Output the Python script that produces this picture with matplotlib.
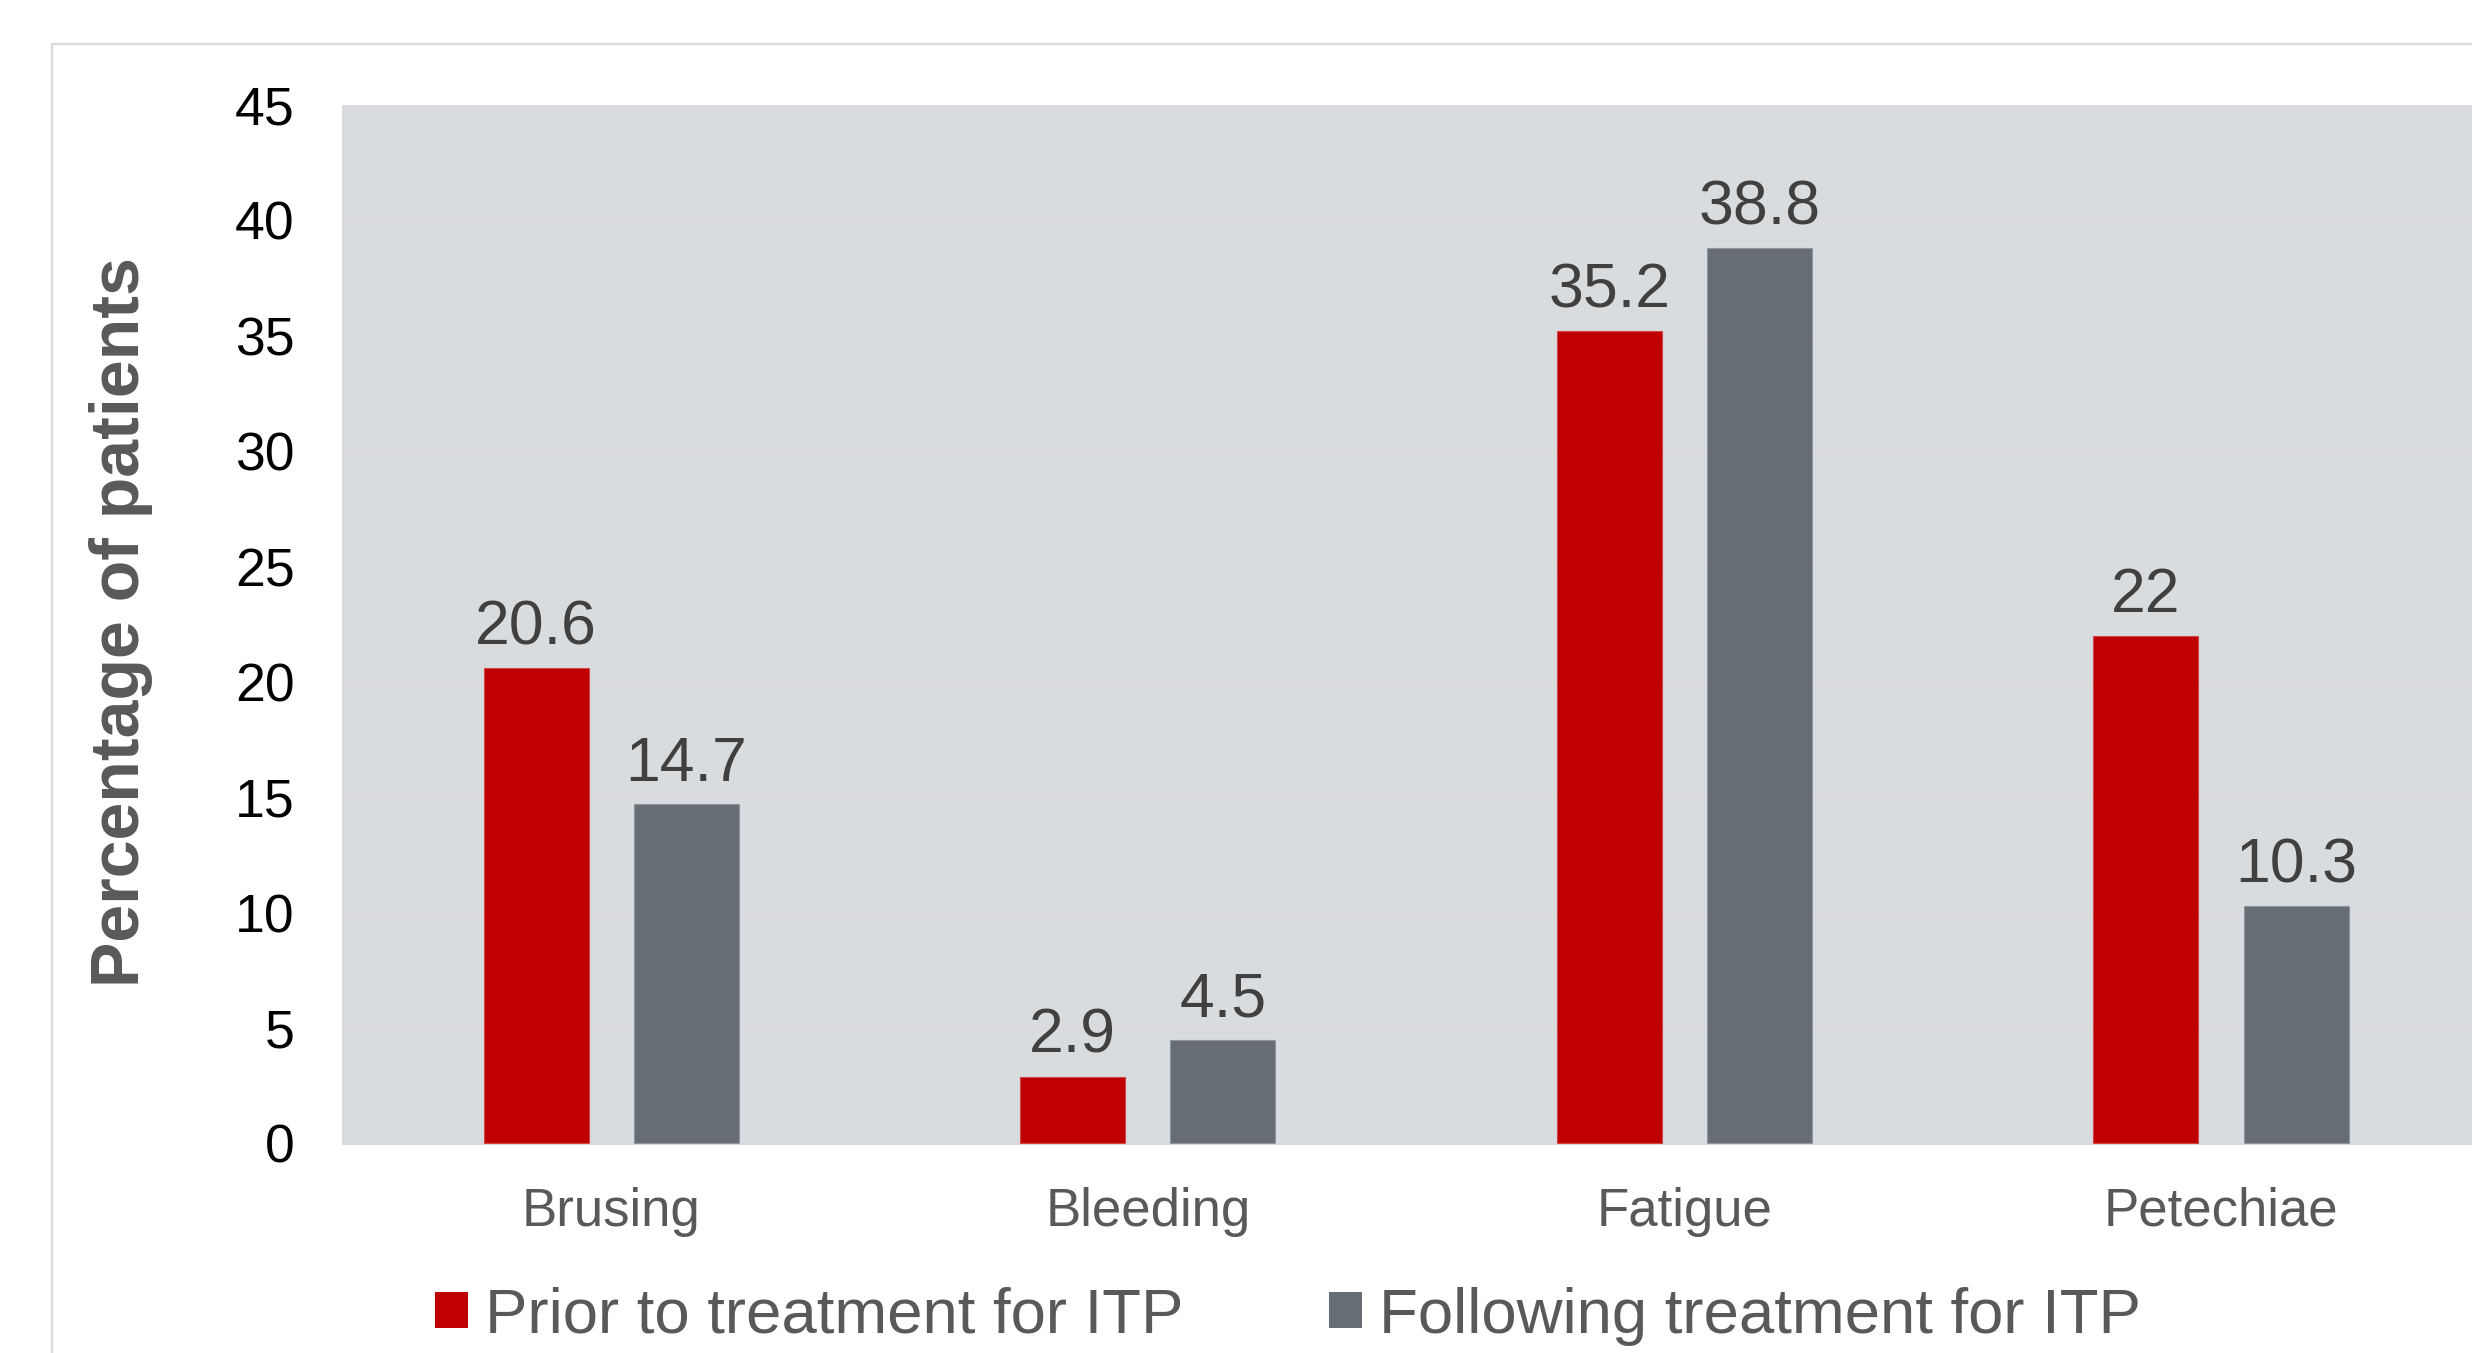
import matplotlib
matplotlib.use("Agg")
import matplotlib.pyplot as plt
from matplotlib.patches import Patch, Rectangle
import numpy as np

plt.rcParams['font.family'] = ['Liberation Sans', 'DejaVu Sans']

categories = ["Brusing", "Bleeding", "Fatigue", "Petechiae"]
prior = [20.6, 2.9, 35.2, 22]
following = [14.7, 4.5, 38.8, 10.3]
prior_labels = ["20.6", "2.9", "35.2", "22"]
following_labels = ["14.7", "4.5", "38.8", "10.3"]
series_names = ["Prior to treatment for ITP", "Following treatment for ITP"]
yticks = [0, 5, 10, 15, 20, 25, 30, 35, 40, 45]

RED = "#C00000"
GRAY = "#666D75"
BG = "#D9DCDF"

W, H = 2472, 1353
fig = plt.figure(figsize=(W / 100, H / 100), dpi=100)
fig.patch.set_facecolor("white")

# outer light border
fig.add_artist(Rectangle((52 / W, -0.05), 1.2, 1 - 44 / H + 0.05,
                         transform=fig.transFigure, fill=False,
                         edgecolor="#D9D9D9", linewidth=1.6))

LEFT = 342
ax = fig.add_axes([LEFT / W, 1 - 1145 / H, (W - LEFT) / W, (1145 - 105) / H])
ax.set_facecolor(BG)
for s in ax.spines.values():
    s.set_visible(False)

x = np.arange(len(categories))
bw = 0.1957
off = 0.14
ax.bar(x - off, prior, width=bw, color=RED, edgecolor="#D24545", linewidth=0.8, zorder=3)
ax.bar(x + off, following, width=bw, color=GRAY, edgecolor="#8E949A", linewidth=0.8, zorder=3)

for xi, v, t in zip(x - off, prior, prior_labels):
    ax.annotate(t, (xi, v), xytext=(0, 17), textcoords="offset points",
                ha="center", va="baseline", fontsize=45, color="#404040", zorder=4)
for xi, v, t in zip(x + off, following, following_labels):
    ax.annotate(t, (xi, v), xytext=(0, 17), textcoords="offset points",
                ha="center", va="baseline", fontsize=45, color="#404040", zorder=4)

ax.set_xlim((LEFT - 611.2) / 536.6, (W - 611.2) / 536.6)
ax.set_ylim(-0.065, 45)
ax.set_yticks(yticks)
ax.set_yticklabels([str(v) for v in yticks])
ax.set_xticks(x)
ax.set_xticklabels(categories)
ax.tick_params(axis="y", length=0, pad=34, labelsize=38.5, labelcolor="black")
ax.tick_params(axis="x", length=0, pad=30, labelsize=38, labelcolor="#595959")
ax.grid(axis="y", color="#DEDADA", linewidth=1.0, zorder=1)
ax.set_axisbelow(True)

fig.text(121 / W, 1 - 622.5 / H, "Percentage of patients", rotation=90,
         ha="center", va="center", fontsize=49, fontweight="bold", color="#595959")

handles = [Patch(facecolor=RED, edgecolor="none"), Patch(facecolor=GRAY, edgecolor="none")]
fig.legend(handles, series_names, loc="center", bbox_to_anchor=(1288 / W, 1 - 1316 / H),
           ncol=2, frameon=False, fontsize=45.7, handlelength=0.52, handleheight=0.5,
           handletextpad=0.26, columnspacing=2.3, labelcolor="#595959",
           borderpad=0, borderaxespad=0)

fig.savefig("out.png", dpi=100, facecolor="white")
